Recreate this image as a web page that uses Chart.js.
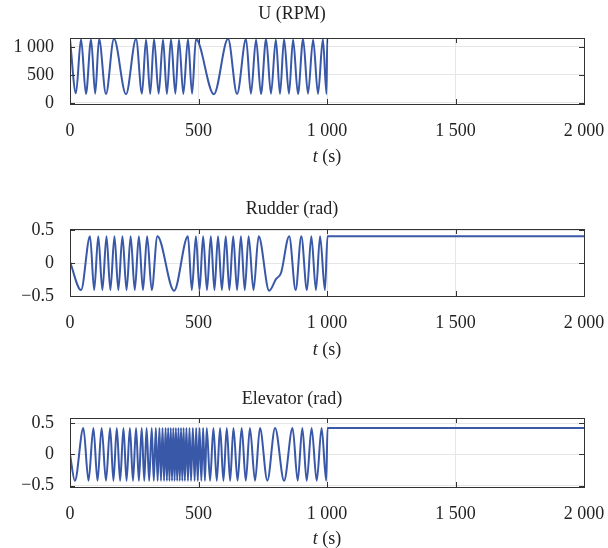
<!DOCTYPE html>
<html lang="en">
<head>
<meta charset="UTF-8" />
<title>U, Rudder, Elevator</title>
<script src="https://cdn.jsdelivr.net/npm/chart.js"></script>
<style>
  body { margin: 0; background: #fff; }
  .panel { position: absolute; left: 0; width: 608px; }
</style>
</head>
<body>
<div class="panel" style="top:0px"><canvas id="uChart" width="608" height="175"></canvas></div>
<div class="panel" style="top:190px"><canvas id="rudderChart" width="608" height="180"></canvas></div>
<div class="panel" style="top:380px"><canvas id="elevChart" width="608" height="168"></canvas></div>

<script>
// x axis (time, s)
const xTickValues = [0, 500, 1000, 1500, 2000];
const xTickLabels = ["0", "500", "1 000", "1 500", "2 000"];

// U (RPM)
const uTime = [0, 23, 43, 62, 82, 98, 113, 140, 171, 218, 257, 280, 296, 312, 327, 345, 362, 377,
  393, 410, 424, 441, 459, 475, 490, 560, 615, 650, 685, 704, 724, 743, 763, 782, 801, 817,
  833, 852, 868, 887, 907, 926, 946, 965, 984, 998, 1001, 1640];
const uValue = [1130, 170, 1140, 160, 1135, 165, 1140, 160, 1145, 155, 1140, 165, 1135, 160, 1140, 165, 1135, 160,
  1140, 165, 1135, 160, 1140, 165, 1140, 155, 1145, 160, 1140, 165, 1135, 160, 1140, 165, 1135, 160,
  1140, 165, 1135, 160, 1140, 165, 1135, 160, 1140, 160, 1160, 1160];
const uTicks = [0, 500, 1000];
const uTickLabels = ["0", "500", "1 000"];

// Rudder (rad)
const rudderTime = [0, 43, 78, 94, 110, 126, 142, 157, 173, 188, 204, 220, 236, 252, 268, 284, 300, 318,
  340, 405, 459, 474, 490, 504, 518, 533, 548, 562, 576, 591, 606, 620, 635, 650, 665, 680,
  695, 714, 734, 775, 802, 821, 853, 878, 900, 922, 939, 957, 973, 992, 1002, 2000];
const rudderValue = [0.02, -0.41, 0.41, -0.41, 0.41, -0.41, 0.41, -0.41, 0.41, -0.41, 0.41, -0.41, 0.41, -0.41, 0.41, -0.41, 0.41, -0.41,
  0.41, -0.42, 0.41, -0.41, 0.41, -0.41, 0.41, -0.41, 0.41, -0.41, 0.41, -0.41, 0.41, -0.41, 0.41, -0.41, 0.41, -0.41,
  0.41, -0.41, 0.41, -0.42, -0.24, -0.15, 0.41, -0.41, 0.41, -0.41, 0.41, -0.41, 0.41, -0.41, 0.41, 0.41];

// Elevator (rad)
const elevTime = [
  0, 19, 52, 72, 91, 107, 123, 140, 156, 169,
  182, 195, 208, 220, 233, 245, 257, 268, 279, 289,
  298, 308, 318, 326, 334, 341, 348, 354, 360, 366,
  372, 377, 382, 387, 392, 397, 402, 407, 412, 417,
  422, 427, 432, 437, 442, 447, 453, 459, 465, 471,
  478, 485, 491, 497, 504, 511, 518, 525, 532, 545,
  558, 571, 584, 597, 610, 623, 636, 652, 668, 684,
  700, 720, 739, 768, 798, 833, 866, 886, 904, 921,
  940, 960, 979, 997, 1002, 2000];
const elevValue = [
  0.0, -0.42, 0.42, -0.42, 0.42, -0.42, 0.42, -0.42, 0.42, -0.42,
  0.42, -0.42, 0.42, -0.42, 0.42, -0.42, 0.42, -0.42, 0.42, -0.42,
  0.42, -0.42, 0.42, -0.42, 0.42, -0.42, 0.42, -0.42, 0.42, -0.42,
  0.42, -0.42, 0.42, -0.42, 0.42, -0.42, 0.42, -0.42, 0.42, -0.42,
  0.42, -0.42, 0.42, -0.42, 0.42, -0.42, 0.42, -0.42, 0.42, -0.42,
  0.42, -0.42, 0.42, -0.42, 0.42, -0.42, 0.42, -0.42, 0.42, -0.42,
  0.42, -0.42, 0.42, -0.42, 0.42, -0.42, 0.42, -0.42, 0.42, -0.42,
  0.42, -0.42, 0.42, -0.42, 0.42, -0.42, 0.42, -0.42, 0.42, -0.42,
  0.42, -0.42, 0.42, -0.42, 0.42, 0.42];
const angleTicks = [-0.5, 0, 0.5];
const angleTickLabels = ["\u22120.5", "0", "0.5"];

const FONT = "'Liberation Serif', 'Times New Roman', serif";
const LINE = "#3a58a8";

// box round the plot with small inward ticks
const frame = {
  id: "frame",
  afterDraw(chart) {
    const { ctx, chartArea: a, scales } = chart;
    ctx.save();
    ctx.strokeStyle = "#333";
    ctx.lineWidth = 1;
    ctx.beginPath();
    xTickValues.forEach((v) => {
      const px = Math.round(scales.x.getPixelForValue(v)) + 0.5;
      ctx.moveTo(px, a.bottom); ctx.lineTo(px, a.bottom - 5);
      ctx.moveTo(px, a.top); ctx.lineTo(px, a.top + 5);
    });
    scales.y.ticks.forEach((t) => {
      const py = Math.round(scales.y.getPixelForValue(t.value)) + 0.5;
      ctx.moveTo(a.left, py); ctx.lineTo(a.left + 5, py);
      ctx.moveTo(a.right, py); ctx.lineTo(a.right - 5, py);
    });
    ctx.stroke();
    ctx.strokeRect(Math.round(a.left) + 0.5, Math.round(a.top) + 0.5,
      Math.round(a.right - a.left), Math.round(a.bottom - a.top));
    ctx.restore();
  },
};

// "t (s)" with italic t
const xTitle = {
  id: "xTitle",
  afterDraw(chart, args, opts) {
    const { ctx, chartArea: a } = chart;
    const y = a.bottom + opts.offset;
    ctx.save();
    ctx.fillStyle = "#222";
    ctx.textBaseline = "middle";
    ctx.font = "italic 18px " + FONT;
    const w1 = ctx.measureText("t").width;
    ctx.font = "18px " + FONT;
    const w2 = ctx.measureText(" (s)").width;
    let x = (a.left + a.right) / 2 - (w1 + w2) / 2;
    ctx.font = "italic 18px " + FONT;
    ctx.fillText("t", x, y);
    ctx.font = "18px " + FONT;
    ctx.fillText(" (s)", x + w1, y);
    ctx.restore();
  },
};

function makePanel(id, times, values, p) {
  const ctx = document.getElementById(id).getContext("2d");
  return new Chart(ctx, {
    type: "line",
    data: {
      datasets: [
        {
          data: times.map((t, i) => ({ x: t, y: values[i] })),
          borderColor: LINE,
          borderWidth: 2,
          pointRadius: 0,
          cubicInterpolationMode: "monotone",
          fill: false,
        },
      ],
    },
    options: {
      responsive: false,
      animation: false,
      layout: { padding: { left: 0, right: 24, top: 0, bottom: 0 } },
      plugins: {
        legend: { display: false },
        tooltip: { enabled: false },
        title: {
          display: true,
          text: p.title,
          color: "#222",
          font: { family: FONT, size: 18, weight: "normal" },
          padding: { top: p.titleTop, bottom: p.titleBottom },
        },
        xTitle: { offset: p.xTitleOffset },
      },
      scales: {
        x: {
          type: "linear",
          min: 0,
          max: 2000,
          afterBuildTicks: (s) => { s.ticks = xTickValues.map((v) => ({ value: v })); },
          afterFit: (s) => { s.height = p.xHeight; s.paddingLeft = 0; s.paddingRight = 0; },
          ticks: {
            padding: 16,
            color: "#222",
            font: { family: FONT, size: 18 },
            maxRotation: 0,
            callback: (v) => xTickLabels[xTickValues.indexOf(v)],
          },
          grid: { color: "#e6e6e6", drawTicks: false },
          border: { display: false },
        },
        y: {
          min: p.yMin,
          max: p.yMax,
          afterBuildTicks: (s) => { s.ticks = p.yTicks.map((v) => ({ value: v })); },
          afterFit: (s) => { s.width = 70; },
          ticks: {
            padding: 16,
            color: "#222",
            font: { family: FONT, size: 18 },
            callback: (v) => p.yLabels[p.yTicks.indexOf(v)],
          },
          grid: { color: "#e6e6e6", drawTicks: false },
          border: { display: false },
        },
      },
    },
    plugins: [frame, xTitle],
  });
}

makePanel("uChart", uTime, uValue, {
  title: "U (RPM)", titleTop: 3, titleBottom: 13.4,
  yMin: -20, yMax: 1160, yTicks: uTicks, yLabels: uTickLabels,
  xHeight: 71, xTitleOffset: 53,
});
makePanel("rudderChart", rudderTime, rudderValue, {
  title: "Rudder (rad)", titleTop: 8.7, titleBottom: 8.7,
  yMin: -0.5, yMax: 0.52, yTicks: angleTicks, yLabels: angleTickLabels,
  xHeight: 74, xTitleOffset: 54,
});
makePanel("elevChart", elevTime, elevValue, {
  title: "Elevator (rad)", titleTop: 8.7, titleBottom: 7.7,
  yMin: -0.52, yMax: 0.58, yTicks: angleTicks, yLabels: angleTickLabels,
  xHeight: 61, xTitleOffset: 52,
});
</script>
</body>
</html>
